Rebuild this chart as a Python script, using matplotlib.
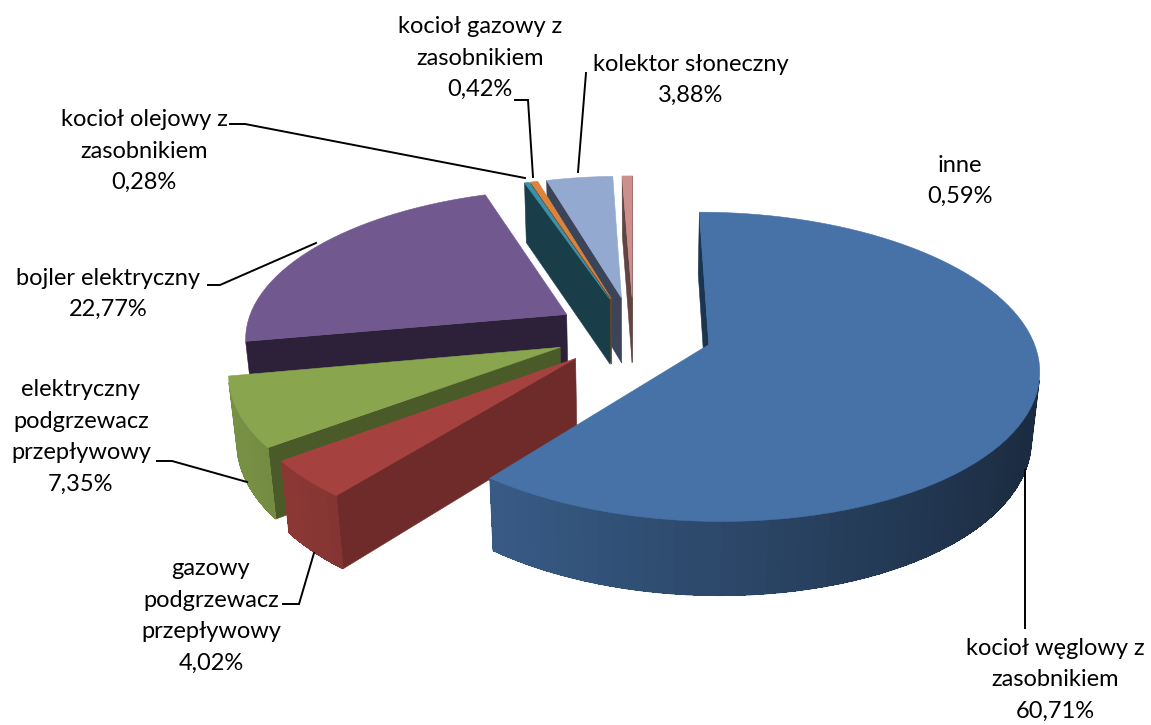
import numpy as np
import matplotlib
matplotlib.use("Agg")
import matplotlib.pyplot as plt
from matplotlib.patches import Polygon
from matplotlib.colors import to_rgb

# ---- data ----
categories = ["kocioł węglowy z\nzasobnikiem", "gazowy\npodgrzewacz\nprzepływowy",
              "elektryczny\npodgrzewacz\nprzepływowy", "bojler elektryczny",
              "kocioł olejowy z\nzasobnikiem", "kocioł gazowy z\nzasobnikiem",
              "kolektor słoneczny", "inne"]
values = [60.71, 4.02, 7.35, 22.77, 0.28, 0.42, 3.88, 0.59]
value_labels = ["60,71%", "4,02%", "7,35%", "22,77%", "0,28%", "0,42%", "3,88%", "0,59%"]

# ---- style ----
top_colors = ["#4672A8", "#A5423F", "#89A54E", "#71588F", "#3A92AA", "#DB843D", "#93A9CF", "#CD8F8D"]
radial_colors = ["#1B3550", "#6E2B2A", "#4A5A28", "#2C2138", "#1A3E49", "#6F4520", "#3B4459", "#5F4442"]
draw_order = [7, 6, 5, 4, 3, 2, 1, 0]

CX, CY = 633.5, 332.5   # plane origin on the canvas
A, B, D = 322.0, 148.0, 68.0   # radius (x), radius (y), thickness
P, Q = 0.142, 0.02      # perspective strengths
EXPLODE = 0.245

label_pos = [(1055, 680), (211, 616), (81, 437), (108, 294), (144, 151), (480, 58), (691, 80), (960, 181)]
leaders = [
    [(1025, 470), (1025, 628)],
    [(283, 604), (299, 604), (314, 553)],
    [(157, 461), (172, 461), (247, 482)],
    [(208, 285), (220, 285), (316, 243)],
    [(230, 124), (245, 124), (525, 178)],
    [(515, 100), (528, 100), (533, 177)],
    [(586, 73), (578, 172)],
]

plt.rcParams["font.family"] = ["Lato", "DejaVu Sans"]
fig = plt.figure(figsize=(11.51, 7.25), dpi=100)
ax = fig.add_axes([0, 0, 1, 1])
ax.set_xlim(0, 1151)
ax.set_ylim(725, 0)
ax.axis("off")


def project(X, Y, z):
    """z = 0 on the top face, z = 1 on the bottom face."""
    w = 1 + P * Y + Q * z
    return (CX + A * X / w, CY - (B * Y - D * z) / w)


def visible(poly):
    p = np.array(poly)
    x, y = p[:, 0], -p[:, 1]
    return 0.5 * np.sum(x * np.roll(y, -1) - np.roll(x, -1) * y) > 0


def shade(color, f):
    return tuple(min(1, c * f) for c in to_rgb(color))


def fill(poly, color, z, lw=0.4):
    ax.add_patch(Polygon(poly, closed=True, facecolor=color, edgecolor=color, linewidth=lw, zorder=z))


shares = np.array(values) / np.sum(values) * 360.0
ends = np.cumsum(shares)
starts = ends - shares

for rank, i in enumerate(draw_order):
    t0, t1 = np.radians(starts[i]), np.radians(ends[i])
    mid = (t0 + t1) / 2
    ex, ey = EXPLODE * np.sin(mid), EXPLODE * np.cos(mid)
    n = max(2, int(np.degrees(t1 - t0) / 2.4))
    th = np.linspace(t0, t1, n + 1)
    X, Y = ex + np.sin(th), ey + np.cos(th)
    base = 10 + rank * 4
    top = [project(x, y, 0) for x, y in zip(X, Y)]
    bot = [project(x, y, 1) for x, y in zip(X, Y)]
    a_top, a_bot = project(ex, ey, 0), project(ex, ey, 1)
    # radial faces
    start_face = [a_top, top[0], bot[0], a_bot]
    end_face = [top[-1], a_top, a_bot, bot[-1]]
    for face in (start_face, end_face):
        if visible(face):
            fill(face, radial_colors[i], base)
    # outer rim, shaded by the direction it faces
    for k in range(n):
        quad = [top[k], top[k + 1], bot[k + 1], bot[k]]
        if visible(quad):
            f = np.clip(0.63 - 0.27 * np.sin((th[k] + th[k + 1]) / 2), 0.39, 0.87)
            col = shade(top_colors[i], f)
            # smooth outline underneath, hard-edged fill on top to avoid seams
            ax.add_patch(Polygon(quad, closed=True, facecolor=col, edgecolor=col,
                                 linewidth=0.7, zorder=base + 0.5))
            ax.add_patch(Polygon(quad, closed=True, facecolor=col, edgecolor="none",
                                 antialiased=False, zorder=base + 1))
    # top face
    fill([a_top] + top, top_colors[i], base + 2)

for line in leaders:
    xs, ys = zip(*line)
    ax.plot(xs, ys, color="black", lw=1.4, zorder=60, solid_joinstyle="miter")

for name, val, (x, y) in zip(categories, value_labels, label_pos):
    ax.text(x, y, f"{name}\n{val}", ha="center", va="center", fontsize=17,
            linespacing=1.62, color="black", zorder=70)

fig.savefig("out.png", dpi=100, facecolor="white")
